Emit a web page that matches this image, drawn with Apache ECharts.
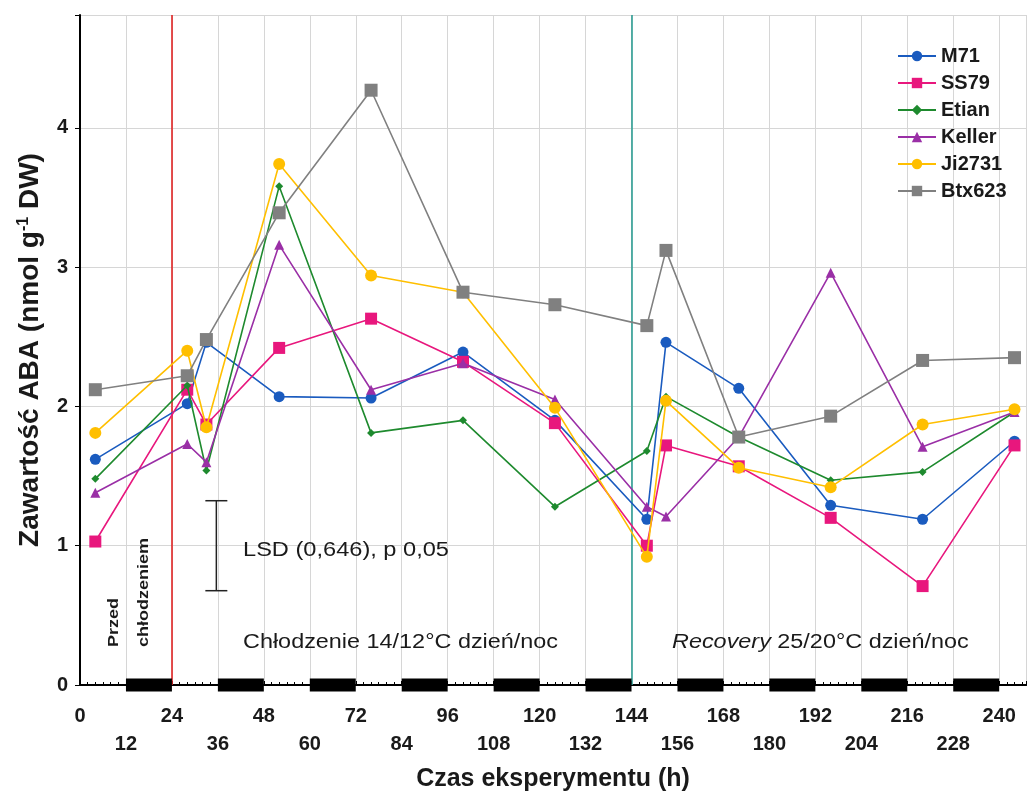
<!DOCTYPE html>
<html>
<head>
<meta charset="utf-8">
<script src="https://cdn.jsdelivr.net/npm/echarts@6/dist/echarts.min.js"></script>
<style>
html,body{margin:0;padding:0;background:#fff;}
#chart{width:1029px;height:798px;}
</style>
</head>
<body>
<div id="chart"></div>
<script>
// ---- data ----
var times = [4, 28, 33, 52, 76, 100, 124, 148, 153, 172, 196, 220, 244];
var seriesNames = ['M71', 'SS79', 'Etian', 'Keller', 'Ji2731', 'Btx623'];
var M71    = [1.62, 2.02, 2.46, 2.07, 2.06, 2.39, 1.90, 1.19, 2.46, 2.13, 1.29, 1.19, 1.75];
var SS79   = [1.03, 2.12, 1.87, 2.42, 2.63, 2.32, 1.88, 1.00, 1.72, 1.57, 1.20, 0.71, 1.72];
var Etian  = [1.48, 2.15, 1.54, 3.58, 1.81, 1.90, 1.28, 1.68, 2.07, 1.78, 1.47, 1.53, 1.96];
var Keller = [1.38, 1.73, 1.60, 3.16, 2.12, 2.31, 2.05, 1.28, 1.21, 1.78, 2.96, 1.71, 1.96];
var Ji2731 = [1.81, 2.40, 1.85, 3.74, 2.94, 2.82, 1.99, 0.92, 2.04, 1.56, 1.42, 1.87, 1.98];
var Btx623 = [2.12, 2.22, 2.48, 3.39, 4.27, 2.82, 2.73, 2.58, 3.12, 1.78, 1.93, 2.33, 2.35];
var nightBars = [[12,24],[36,48],[60,72],[84,96],[108,120],[132,144],[156,168],[180,192],[204,216],[228,240]];
var lsdBar = [[35.6, 0.677, 1.323]];   // x, low, high (LSD 0.646)
var phaseLines = [24, 144];
var yTicks = [0, 1, 2, 3, 4];

var values = [M71, SS79, Etian, Keller, Ji2731, Btx623];
var colors = ['#1a5bbf', '#e8177d', '#1e8a2e', '#9a2fa6', '#ffbf00', '#808080'];
var symbols = ['circle', 'rect', 'diamond', 'triangle', 'circle', 'rect'];
var sizes = [11, 12, 8, 10, 12, 13];

var FONT = '"Liberation Sans", Arial, sans-serif';

function pairs(arr){ return times.map(function(t,i){ return [t, arr[i]]; }); }

var series = seriesNames.map(function(name, i){
  return {
    name: name, type: 'line', xAxisIndex: 0, yAxisIndex: 0,
    data: pairs(values[i]),
    symbol: symbols[i], symbolSize: sizes[i],
    itemStyle: {color: colors[i]},
    lineStyle: {color: colors[i], width: 1.6},
    z: 3 + i, animation: false
  };
});

series[0].markLine = {
  silent: true, symbol: ['none','none'], label: {show:false},
  data: phaseLines.map(function(v, i){
    return {xAxis: v, lineStyle: {color: i === 0 ? '#e02424' : '#2e9e94', width: 1.6, type: 'solid'}};
  }),
  z: 2, animation: false
};

series.push({
  type: 'custom', name: 'night', xAxisIndex: 0, yAxisIndex: 0,
  data: nightBars, clip: false, z: 20, silent: true, animation: false,
  renderItem: function(params, api){
    var a = api.coord([api.value(0), 0]);
    var b = api.coord([api.value(1), 0]);
    return {type: 'rect', shape: {x: a[0], y: a[1] - 6.5, width: b[0] - a[0], height: 13},
            style: {fill: '#000'}};
  }
});

series.push({
  type: 'custom', name: 'lsd', xAxisIndex: 0, yAxisIndex: 0,
  data: lsdBar, z: 20, silent: true, animation: false,
  renderItem: function(params, api){
    var top = api.coord([api.value(0), api.value(2)]);
    var bot = api.coord([api.value(0), api.value(1)]);
    var w = 11;
    var st = {stroke: '#222', lineWidth: 1.5};
    return {type: 'group', children: [
      {type: 'line', shape: {x1: top[0], y1: top[1], x2: bot[0], y2: bot[1]}, style: st},
      {type: 'line', shape: {x1: top[0]-w, y1: top[1], x2: top[0]+w, y2: top[1]}, style: st},
      {type: 'line', shape: {x1: bot[0]-w, y1: bot[1], x2: bot[0]+w, y2: bot[1]}, style: st}
    ]};
  }
});

var chart = echarts.init(document.getElementById('chart'), null, {renderer: 'canvas'});
chart.setOption({
  backgroundColor: '#fff',
  animation: false,
  textStyle: {fontFamily: FONT},
  grid: {left: 80, right: 0, top: 15, bottom: 113, containLabel: false},
  legend: {
    data: seriesNames, orient: 'vertical', left: 892, top: 41,
    itemWidth: 38, itemHeight: 13, itemGap: 7,
    textStyle: {fontFamily: FONT, fontSize: 20, fontWeight: 'bold', color: '#1a1a1a', lineHeight: 20}
  },
  xAxis: [{
    type: 'value', min: 0, max: 247, interval: 12, position: 'bottom',
    name: 'Czas eksperymentu (h)', nameLocation: 'middle', nameGap: 82,
    nameTextStyle: {fontFamily: FONT, fontSize: 25, fontWeight: 'bold', color: '#1a1a1a'},
    axisLine: {show: true, onZero: false, lineStyle: {color: '#000', width: 2}},
    axisTick: {show: true, inside: true, length: 4, lineStyle: {color: '#000'}},
    minorTick: {show: true, splitNumber: 6, length: 3, lineStyle: {color: '#000'}},
    splitLine: {show: true, lineStyle: {color: '#d6d6d6', width: 1}},
    axisLabel: {
      margin: 17, fontFamily: FONT, fontSize: 20, fontWeight: 'bold', color: '#1a1a1a', lineHeight: 28,
      formatter: function(v){
        if (v % 12 !== 0) return '';
        return (v % 24 === 0) ? String(v) : '\n' + v;
      }
    }
  }, {
    type: 'value', min: 0, max: 247, position: 'top',
    axisLine: {show: true, lineStyle: {color: '#000', width: 2}},
    axisTick: {show: false}, axisLabel: {show: false}, splitLine: {show: false}
  }],
  yAxis: {
    type: 'value', min: 0, max: 4.81, interval: 1,
    name: 'Zawartość ABA (nmol g{sup|-1} DW)', nameLocation: 'middle', nameGap: 36, nameRotate: 90,
    nameTextStyle: {
      fontFamily: FONT, fontSize: 28, fontWeight: 'bold', color: '#1a1a1a',
      rich: {sup: {fontFamily: FONT, fontSize: 16, fontWeight: 'bold', color: '#1a1a1a', verticalAlign: 'top', padding: [0,0,12,0]}}
    },
    axisLine: {show: true, lineStyle: {color: '#000', width: 2}},
    axisTick: {show: true, length: 5, lineStyle: {color: '#000'}},
    splitLine: {show: true, lineStyle: {color: '#d6d6d6', width: 1}},
    axisLabel: {
      margin: 12, fontFamily: FONT, fontSize: 20, fontWeight: 'bold', color: '#1a1a1a',
      formatter: function(v){ return yTicks.indexOf(v) >= 0 ? String(v) : ''; }
    }
  },
  graphic: [
    {type: 'text', x: 243, y: 550, scaleX: 1.18, z: 30,
     style: {text: 'LSD (0,646), p 0,05', fontFamily: FONT, fontSize: 20, fill: '#1a1a1a', align: 'left', verticalAlign: 'middle'}},
    {type: 'text', x: 243, y: 642, scaleX: 1.17, z: 30,
     style: {text: 'Chłodzenie 14/12°C dzień/noc', fontFamily: FONT, fontSize: 20, fill: '#1a1a1a', align: 'left', verticalAlign: 'middle'}},
    {type: 'text', x: 672, y: 642, scaleX: 1.17, z: 30,
     style: {text: '{i|Recovery} 25/20°C dzień/noc', fontFamily: FONT, fontSize: 20, fill: '#1a1a1a', align: 'left', verticalAlign: 'middle',
       rich: {i: {fontFamily: FONT, fontSize: 20, fontStyle: 'italic', fill: '#1a1a1a'}}}},
    {type: 'text', x: 114, y: 647, rotation: Math.PI/2, scaleX: 1.2, z: 30,
     style: {text: 'Przed', fontFamily: FONT, fontSize: 15, fontWeight: 'bold', fill: '#1a1a1a', align: 'left', verticalAlign: 'middle'}},
    {type: 'text', x: 144, y: 647, rotation: Math.PI/2, scaleX: 1.2, z: 30,
     style: {text: 'chłodzeniem', fontFamily: FONT, fontSize: 15, fontWeight: 'bold', fill: '#1a1a1a', align: 'left', verticalAlign: 'middle'}}
  ],
  series: series
});
</script>
</body>
</html>
